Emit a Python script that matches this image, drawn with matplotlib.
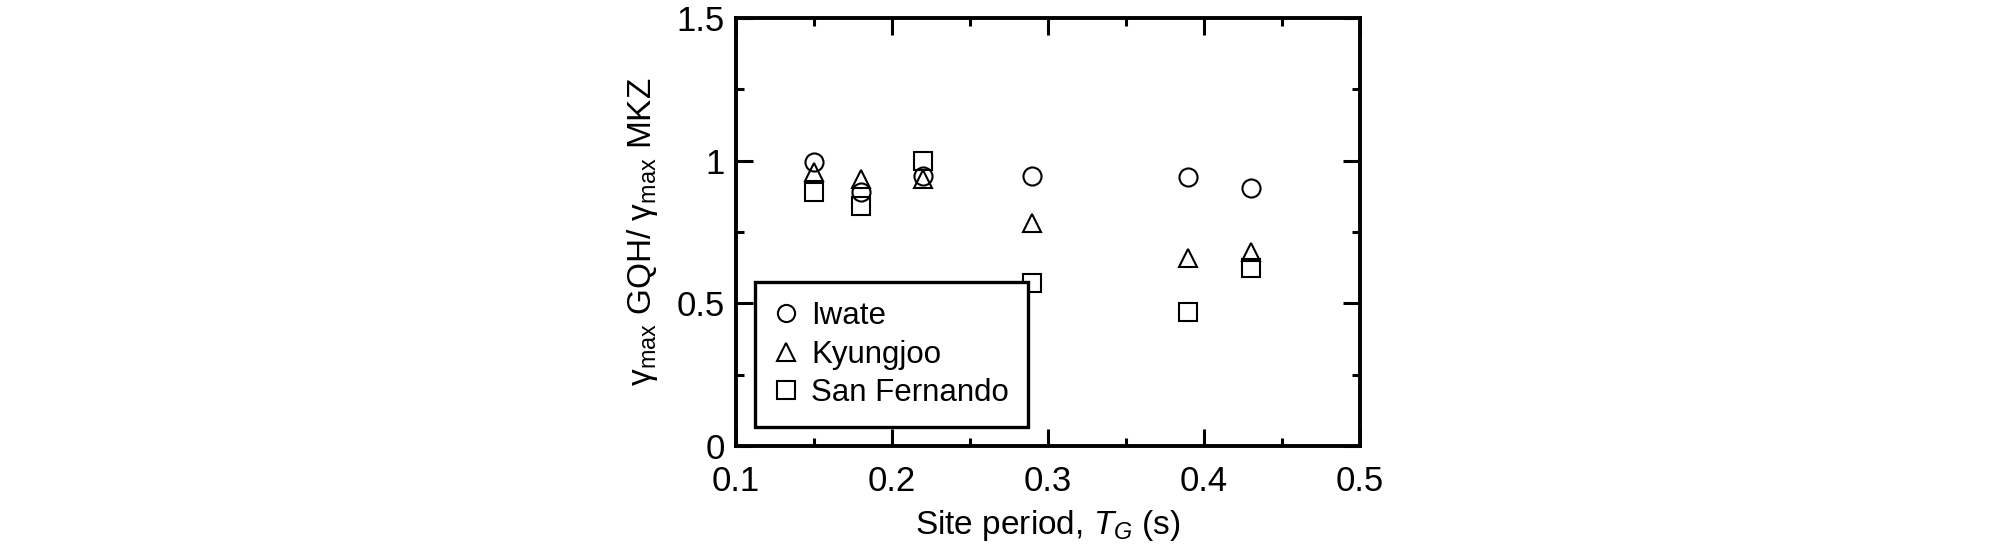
import numpy as np
import matplotlib
matplotlib.use("Agg")
import matplotlib.pyplot as plt

plt.rcParams['font.family'] = ['Liberation Sans', 'DejaVu Sans']
plt.rcParams['mathtext.fontset'] = 'custom'
plt.rcParams['mathtext.rm'] = 'Liberation Sans'
plt.rcParams['mathtext.it'] = 'Liberation Sans:italic'

# site period (s)
site_period = [0.15, 0.18, 0.22, 0.29, 0.39, 0.43]
# ratio gamma_max GQH / gamma_max MKZ
iwate = [0.995, 0.89, 0.945, 0.945, 0.943, 0.905]
kyungjoo = [0.96, 0.935, 0.935, 0.78, 0.66, 0.68]
san_fernando = [0.89, 0.84, 1.0, 0.57, 0.468, 0.625]

fig = plt.figure(figsize=(20.08, 5.48), dpi=100)
ax = fig.add_axes([736 / 2008, 1 - 446 / 548, 624 / 2008, 428 / 548])

mk = dict(linestyle='none', markerfacecolor='none', markeredgecolor='black',
          markeredgewidth=1.5)
ax.plot(site_period, iwate, marker='o', markersize=13, label='Iwate', **mk)
ax.plot(site_period, kyungjoo, marker='^', markersize=13, label='Kyungjoo', **mk)
ax.plot(site_period, san_fernando, marker='s', markersize=13, label='San Fernando', **mk)

ax.set_xlim(0.1, 0.5)
ax.set_ylim(0, 1.5)
ax.set_xticks([0.1, 0.2, 0.3, 0.4, 0.5])
ax.set_xticklabels(['0.1', '0.2', '0.3', '0.4', '0.5'])
ax.set_xticks(np.arange(0.15, 0.5, 0.1), minor=True)
ax.set_yticks([0, 0.5, 1, 1.5])
ax.set_yticklabels(['0', '0.5', '1', '1.5'])
ax.set_yticks([0.25, 0.75, 1.25], minor=True)
ax.tick_params(which='both', direction='in', top=True, right=True,
               labelsize=25, width=2.2)
ax.tick_params(which='major', length=12)
ax.tick_params(which='minor', length=6)
ax.tick_params(axis='x', which='major', pad=14)
ax.tick_params(axis='y', which='major', pad=8)
for s in ax.spines.values():
    s.set_linewidth(2.8)

ax.set_xlabel('Site period, $T_G$ (s)', fontsize=24)
ax.xaxis.set_label_coords(0.5, -0.145)
ax.set_ylabel(r'γ$_{\mathrm{max}}$ GQH/ γ$_{\mathrm{max}}$ MKZ', fontsize=24)
ax.yaxis.set_label_coords(-0.122, 0.5)

leg = ax.legend(loc='lower left', bbox_to_anchor=(0.03, 0.044), fontsize=22.5,
                fancybox=False, edgecolor='black', framealpha=1,
                handletextpad=0.4, handlelength=0.8, borderpad=0.6,
                labelspacing=0.28, markerscale=0.95, borderaxespad=0)
leg.get_frame().set_linewidth(2.4)

fig.savefig('out.png', dpi=100)
